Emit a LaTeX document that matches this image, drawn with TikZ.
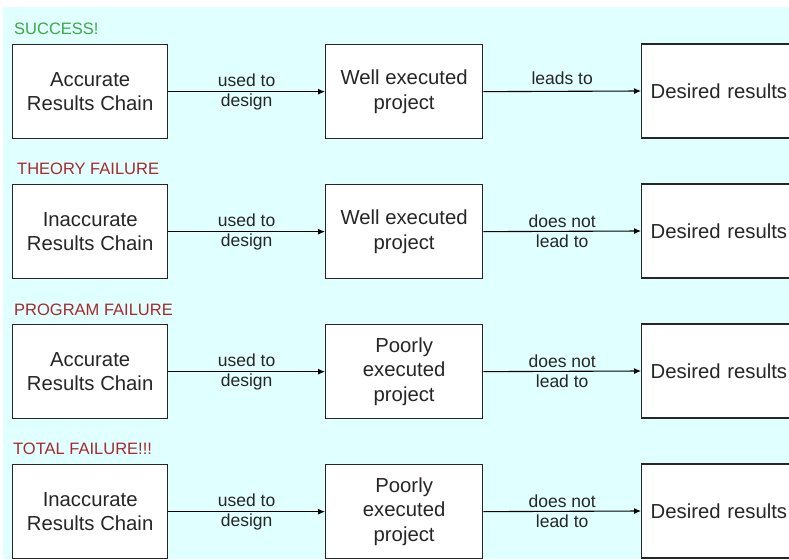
\documentclass[tikz,border=0pt]{standalone}
\usepackage{fontspec}
\setmainfont{Liberation Sans}
\usetikzlibrary{arrows.meta}
\definecolor{panel}{RGB}{224,255,255}
\definecolor{okgreen}{RGB}{62,168,72}
\definecolor{failred}{RGB}{168,40,44}
\begin{document}
\begin{tikzpicture}[x=1pt,y=-1pt,
  box/.style={draw=black!85, line width=1.3pt, fill=white, inner sep=0pt,
    minimum height=94pt, align=center, text=black!85,
    font=\fontsize{20.3}{24.5}\selectfont},
  leftbox/.style={box, anchor=north west, minimum width=155pt},
  midbox/.style={box, anchor=north west, minimum width=157pt},
  endbox/.style={box, anchor=west, align=left, text width=152pt,
    inner xsep=9pt, inner ysep=0pt},
  lbl/.style={align=center, inner sep=0pt, text=black!85,
    font=\fontsize{17.5}{20}\selectfont},
  heading/.style={anchor=west, inner sep=0pt, font=\fontsize{16.5}{19}\selectfont},
  arr/.style={line width=1.1pt, -{Latex[length=7pt,width=6pt]}}]

% page and light panel behind the four rows
\useasboundingbox (0,0) rectangle (789,559);
\clip (0,0) rectangle (789,559);
\fill[white] (0,0) rectangle (789,559);
\fill[panel] (3,7) rectangle (789,559);

% row 1: success
\node[heading, text=okgreen] (t1) at (14,28.5) {SUCCESS!};
\node[leftbox] (a1) at (12,44) {Accurate\\Results Chain};
\node[midbox] (b1) at (325,44) {Well executed\\project};
\node[endbox] (c1) at (641,91) {Desired results};
\draw[arr] (a1.east) -- node[lbl] (l1) {used to\\design} (b1.west);
\draw[arr] (b1.east) -- node[lbl, anchor=south, yshift=6pt] (m1) {leads to} (c1.west);

% row 2: theory failure
\node[heading, text=failred] (t2) at (17,168.5) {THEORY FAILURE};
\node[leftbox] (a2) at (12,184) {Inaccurate\\Results Chain};
\node[midbox] (b2) at (325,184) {Well executed\\project};
\node[endbox] (c2) at (641,231) {Desired results};
\draw[arr] (a2.east) -- node[lbl] (l2) {used to\\design} (b2.west);
\draw[arr] (b2.east) -- node[lbl] (m2) {does not\\lead to} (c2.west);

% row 3: program failure
\node[heading, text=failred] (t3) at (14,309.5) {PROGRAM FAILURE};
\node[leftbox] (a3) at (12,324) {Accurate\\Results Chain};
\node[midbox] (b3) at (325,324) {Poorly\\executed\\project};
\node[endbox] (c3) at (641,371) {Desired results};
\draw[arr] (a3.east) -- node[lbl] (l3) {used to\\design} (b3.west);
\draw[arr] (b3.east) -- node[lbl] (m3) {does not\\lead to} (c3.west);

% row 4: total failure
\node[heading, text=failred] (t4) at (13,449) {TOTAL FAILURE!!!};
\node[leftbox] (a4) at (12,464) {Inaccurate\\Results Chain};
\node[midbox] (b4) at (325,464) {Poorly\\executed\\project};
\node[endbox] (c4) at (641,511) {Desired results};
\draw[arr] (a4.east) -- node[lbl] (l4) {used to\\design} (b4.west);
\draw[arr] (b4.east) -- node[lbl] (m4) {does not\\lead to} (c4.west);
\end{tikzpicture}
\end{document}
